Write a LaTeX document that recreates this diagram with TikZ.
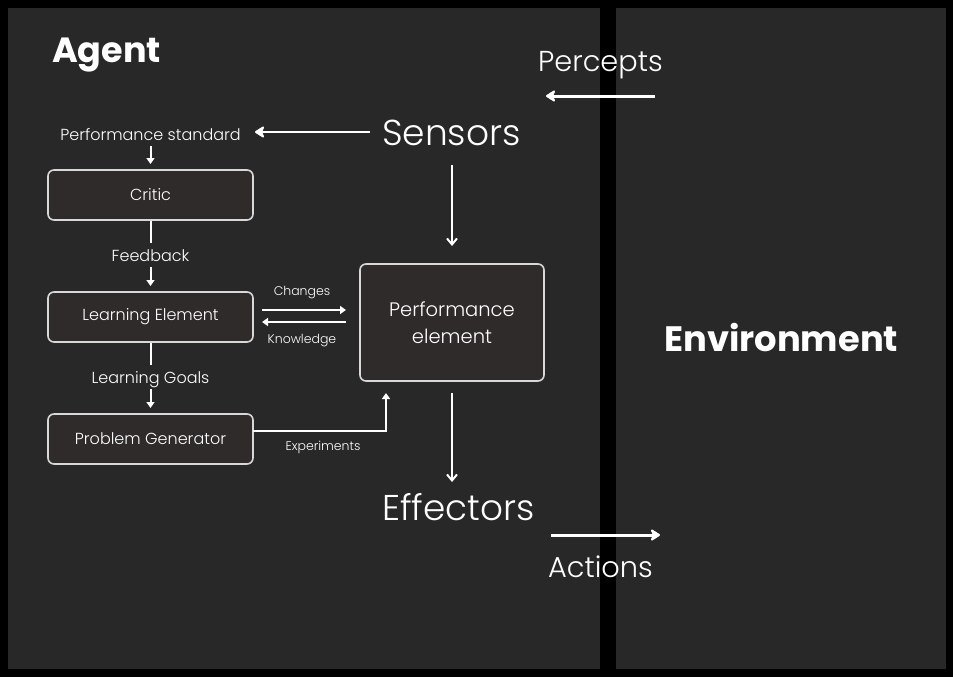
\documentclass[tikz,border=0pt]{standalone}
\usepackage{fontspec}
\setmainfont{Poppins}[UprightFont={* Light}, BoldFont={* Bold}]
\usetikzlibrary{arrows.meta}
\definecolor{panel}{HTML}{282828}
\definecolor{boxfill}{HTML}{2F2B2A}
\definecolor{boxline}{HTML}{D8D8D8}
\tikzset{
  box/.style={draw=boxline, line width=1.6pt, fill=boxfill, rounded corners=6pt, text=white, inner sep=0pt},
  bigarr/.style={draw=white, line width=3pt, -{Stealth[length=11pt,width=14pt,inset=3pt,round]}},
  midarr/.style={draw=white, line width=2pt, -{Straight Barb[length=6pt,width=10pt]}},
  smallarr/.style={draw=white, line width=2pt, -{Triangle[length=6pt,width=8pt]}},
  plain/.style={draw=white, line width=2pt},
  lbl/.style={text=white, inner sep=0pt, anchor=base},
}
\begin{document}
\begin{tikzpicture}[x=1pt,y=-1pt]
\useasboundingbox (0,0) rectangle (953,677);
\fill[black] (0,0) rectangle (953,677);
\fill[panel] (8,8) rectangle (600,669);
\fill[panel] (616,8) rectangle (946,669);

% titles
\node[lbl, anchor=base west, font=\fontsize{35}{40}\selectfont\bfseries] (agent) at (52,63) {Agent};
\node[lbl, anchor=base west, font=\fontsize{35.3}{40}\selectfont\bfseries] (env) at (664,351) {Environment};
\node[lbl, anchor=base west, font=\fontsize{36}{40}\selectfont] (sensors) at (382,145) {Sensors};
\node[lbl, anchor=base west, font=\fontsize{35.8}{40}\selectfont] (effectors) at (382,520) {Effectors};
\node[lbl, anchor=base west, font=\fontsize{28.8}{34}\selectfont] (percepts) at (538,71) {Percepts};
\node[lbl, anchor=base west, font=\fontsize{28.8}{34}\selectfont] (actions) at (548,577) {Actions};

% boxes
\node[box, minimum width=205pt, minimum height=50pt, font=\fontsize{16}{20}\selectfont] (critic) at (150.5,195) {Critic};
\node[box, minimum width=205pt, minimum height=50pt, font=\fontsize{16}{20}\selectfont] (learn) at (150.5,317) {Learning Element};
\node[box, minimum width=205pt, minimum height=50pt, font=\fontsize{16}{20}\selectfont] (prob) at (150.5,439) {Problem Generator};
\node[box, minimum width=184pt, minimum height=117pt, align=center, font=\fontsize{19.5}{27}\selectfont] (perf) at (452,322.5) {Performance\\element};

% small labels
\node[lbl, font=\fontsize{16}{20}\selectfont] (pstd) at (150.5,140) {Performance standard};
\node[lbl, font=\fontsize{16}{20}\selectfont] (fb) at (150.5,261) {Feedback};
\node[lbl, font=\fontsize{16}{20}\selectfont] (lg) at (150.5,383) {Learning Goals};
\node[lbl, font=\fontsize{12.5}{16}\selectfont] (chg) at (302,295) {Changes};
\node[lbl, font=\fontsize{12.5}{16}\selectfont] (knw) at (302,343) {Knowledge};
\node[lbl, font=\fontsize{12.5}{16}\selectfont] (exp) at (323,450) {Experiments};

% coordinates
\coordinate (pc1) at (655,96);
\coordinate (pc2) at (546,96);
\coordinate (ac1) at (551,535);
\coordinate (ac2) at (660,535);
\coordinate (ps1) at (370,132);
\coordinate (ps2) at (255,132);
\coordinate (s1) at (452,165);
\coordinate (s2) at (452,246);
\coordinate (e1) at (452,393);
\coordinate (e2) at (452,482);
\coordinate (c1) at (262,310);
\coordinate (c2) at (346,310);
\coordinate (k1) at (346,322);
\coordinate (k2) at (262,322);
\coordinate (x1) at (253,431);
\coordinate (x2) at (386,431);
\coordinate (x3) at (386,393);
\coordinate (p1) at (150.5,146);
\coordinate (p2) at (150.5,164);
\coordinate (f0) at (150.5,243);
\coordinate (f1) at (150.5,267);
\coordinate (f2) at (150.5,286);
\coordinate (g0) at (150.5,365);
\coordinate (g1) at (150.5,389);
\coordinate (g2) at (150.5,408);

% connectors
\draw[bigarr] (pc1) -- (pc2);
\draw[bigarr] (ac1) -- (ac2);
\draw[bigarr, line width=2.6pt] (ps1) -- (ps2);
\draw[midarr] (s1) -- (s2);
\draw[midarr] (e1) -- (e2);
\draw[smallarr] (c1) -- (c2);
\draw[smallarr] (k1) -- (k2);
\draw[smallarr] (x1) -- (x2) -- (x3);
\draw[smallarr] (p1) -- (p2);
\draw[plain] (critic.south) -- (f0);
\draw[smallarr] (f1) -- (f2);
\draw[plain] (learn.south) -- (g0);
\draw[smallarr] (g1) -- (g2);
\end{tikzpicture}
\end{document}
